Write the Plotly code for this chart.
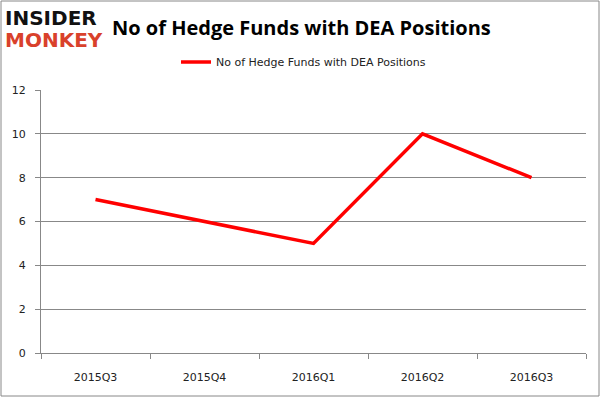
import plotly.graph_objects as go

quarters = ["2015Q3", "2015Q4", "2016Q1", "2016Q2", "2016Q3"]
funds = [7, 6, 5, 10, 8]
series_name = "No of Hedge Funds with DEA Positions"
y_ticks = [0, 2, 4, 6, 8, 10, 12]

fig = go.Figure()
fig.add_trace(go.Scatter(x=quarters, y=funds, mode="lines", name=series_name,
                         line=dict(color="#ff0000", width=3.5)))

W, H = 602, 398
L, R, T, B = 41, 586, 90, 353
PH = B - T
PW = R - L


def px(x):
    return (x - L) / PW


def py(y):
    return (B - y) / PH


fig.update_layout(
    width=W, height=H,
    margin=dict(l=L, r=W - R, t=T, b=H - B, autoexpand=False),
    paper_bgcolor="white", plot_bgcolor="white",
    font=dict(family="DejaVu Sans, Arial, sans-serif", color="#222222", size=11),
    showlegend=True,
    legend=dict(orientation="h", x=px(176), xanchor="left", y=py(62), yanchor="middle",
                font=dict(size=11, color="#222222"), bgcolor="rgba(0,0,0,0)",
                itemwidth=30),
    xaxis=dict(type="category", range=[-0.5, 4.5], showgrid=False, showline=True,
               linecolor="#888888", linewidth=1, ticks="outside", tickson="boundaries",
               ticklen=5, tickcolor="#888888", tickfont=dict(size=11, color="#222222"),
               ticklabelstandoff=14, zeroline=False, automargin=False),
    yaxis=dict(range=[0, 12], tickvals=y_ticks, showgrid=True, gridcolor="#888888",
               gridwidth=1, showline=True, linecolor="#888888", linewidth=1,
               ticks="outside", ticklen=5, tickcolor="#888888",
               tickfont=dict(size=11, color="#222222"), ticklabelstandoff=7,
               zeroline=False, automargin=False),
)

# Title
fig.add_annotation(text="<b>No of Hedge Funds with DEA Positions</b>", xref="paper", yref="paper",
                   x=px(301), y=py(27), xanchor="center", yanchor="middle",
                   showarrow=False, font=dict(size=20, color="#000000", family="Open Sans, DejaVu Sans, sans-serif"))

# Logo
fig.add_annotation(text="<b>INSIDER</b>", xref="paper", yref="paper",
                   x=px(3), y=py(18), xanchor="left", yanchor="middle",
                   showarrow=False, font=dict(size=20, color="#111111", family="DejaVu Sans, sans-serif"))
fig.add_annotation(text="<b>MONKEY</b>", xref="paper", yref="paper",
                   x=px(3), y=py(40), xanchor="left", yanchor="middle",
                   showarrow=False, font=dict(size=20, color="#d9412b", family="DejaVu Sans, sans-serif"))

# Outer frame
fig.add_shape(type="rect", xref="paper", yref="paper",
              x0=px(1), x1=px(599), y0=py(396), y1=py(1),
              line=dict(color="#888888", width=1), fillcolor="rgba(0,0,0,0)", layer="below")

fig.write_html("out.html", config={"displayModeBar": False},
               post_script="document.body.style.margin='0px';document.body.style.padding='0px';")
